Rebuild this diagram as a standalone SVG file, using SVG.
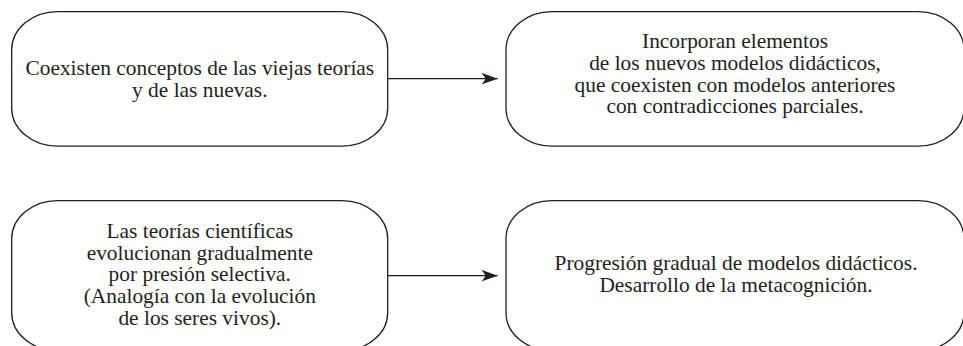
<svg xmlns="http://www.w3.org/2000/svg" width="963" height="346" viewBox="0 0 963 346">
<defs>
<style>
.box{fill:#fff;stroke:#231f20;stroke-width:1.3}
.t{font-family:"Liberation Serif","Times New Roman",serif;font-size:21.4px;fill:#231f20;text-anchor:middle}
.ln{stroke:#231f20;stroke-width:1.3;fill:none}
</style>
<marker id="ah" markerWidth="18" markerHeight="14" viewBox="0 0 18 14" refX="16" refY="7" orient="auto" markerUnits="userSpaceOnUse">
<path d="M16,7 L0,1.3 L4,7 L0,12.7 Z" fill="#231f20"/>
</marker>
</defs>
<rect width="963" height="346" fill="#fff"/>
<g id="n1">
<rect class="box" x="11.7" y="11.7" width="376" height="134.5" rx="46" ry="38"/>
<text class="t" x="199.8" y="75">Coexisten conceptos de las viejas teorías</text>
<text class="t" x="199.8" y="96.7">y de las nuevas.</text>
</g>
<g id="n2">
<rect class="box" x="506" y="11.7" width="458" height="134.5" rx="46" ry="38"/>
<text class="t" x="735" y="48.3">Incorporan elementos</text>
<text class="t" x="735" y="70">de los nuevos modelos didácticos,</text>
<text class="t" x="735" y="91.7">que coexisten con modelos anteriores</text>
<text class="t" x="735" y="113.3">con contradicciones parciales.</text>
</g>
<g id="n3">
<rect class="box" x="11.7" y="200.7" width="376" height="150" rx="46" ry="38"/>
<text class="t" x="199.8" y="238">Las teorías científicas</text>
<text class="t" x="199.8" y="259.7">evolucionan gradualmente</text>
<text class="t" x="199.8" y="281.3">por presión selectiva.</text>
<text class="t" x="199.8" y="303">(Analogía con la evolución</text>
<text class="t" x="199.8" y="324.7">de los seres vivos).</text>
</g>
<g id="n4">
<rect class="box" x="506" y="200.7" width="458" height="150" rx="46" ry="38"/>
<text class="t" x="736" y="270">Progresión gradual de modelos didácticos.</text>
<text class="t" x="736" y="291.7">Desarrollo de la metacognición.</text>
</g>
<g id="connectors">
<line class="ln" x1="387.7" y1="78.7" x2="497.7" y2="78.7" marker-end="url(#ah)"/>
<line class="ln" x1="387.7" y1="275.7" x2="497.7" y2="275.7" marker-end="url(#ah)"/>
</g>
</svg>
